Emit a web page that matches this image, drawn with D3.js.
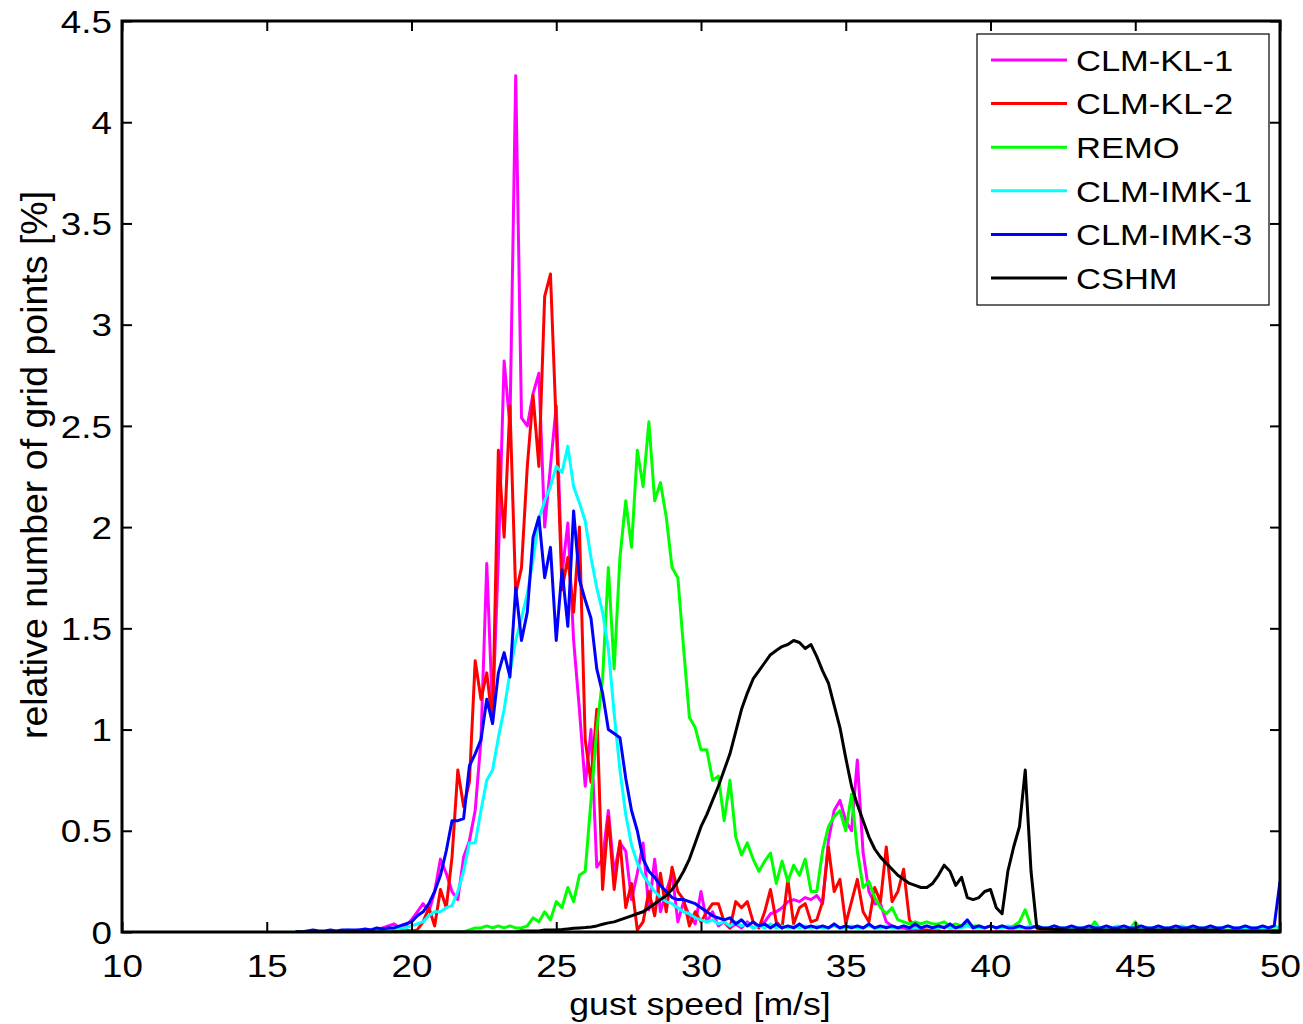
<!DOCTYPE html>
<html><head><meta charset="utf-8">
<script src="https://cdn.jsdelivr.net/npm/d3@7"></script>
<style>body{margin:0;background:#fff}svg{display:block}</style>
</head><body>
<svg id="c" width="1303" height="1024"></svg>
<script>
// bins: gust speed from 16.0 to 50.0 m/s, 0.2 m/s steps
const binStart = 16, binStep = 0.2;
const seriesNames = ["CLM-KL-1","CLM-KL-2","REMO","CLM-IMK-1","CLM-IMK-3","CSHM"];
const seriesColors = ["#ff00ff","#ff0000","#00ff00","#00ffff","#0000ff","#000000"];
const xTicks = [10,15,20,25,30,35,40,45,50];
const yTicks = [0,0.5,1,1.5,2,2.5,3,3.5,4,4.5];
const yTickLabels = ["0","0.5","1","1.5","2","2.5","3","3.5","4","4.5"];

const clmKl1 = [
0,0,0,0,0,
0,0,0,0.005,0,
0.005,0.01,0.005,0.01,0.01,
0.02,0.03,0.04,0.02,0.03,
0.06,0.1,0.14,0.1,0.2,
0.36,0.29,0.2,0.16,0.37,
0.45,0.6,0.95,1.82,1.08,
1.84,2.82,2.5,4.23,2.54,
2.5,2.66,2.76,2.0,2.3,
2.6,1.77,2.02,1.44,1.1,
0.72,1.0,0.32,0.36,0.6,
0.29,0.44,0.4,0.16,0.29,
0.44,0.11,0.36,0.1,0.2,
0.29,0.05,0.15,0.08,0.04,
0.2,0.05,0.1,0.03,0.05,
0.02,0.04,0.02,0.05,0.02,
0.03,0.05,0.09,0.1,0.12,
0.15,0.16,0.15,0.17,0.16,
0.18,0.14,0.45,0.6,0.65,
0.55,0.5,0.85,0.39,0.2,
0.14,0.14,0.05,0.03,0.02,
0.02,0.01,0.01,0.01,0.005,
0.005,0.005,0,0.005,0,
0,0,0,0,0,
0,0,0,0,0,
0,0,0,0,0,
0,0,0,0,0,
0,0,0,0,0,
0,0,0,0,0,
0,0,0,0,0,
0,0,0,0,0,
0,0,0,0,0,
0,0,0,0,0,
0,0,0,0,0,
0];

const clmKl2 = [
0,0,0,0,0,
0,0,0,0,0,
0,0,0,0,0,
0,0,0,0.005,0.01,
0.005,0.01,0.05,0.12,0.03,
0.21,0.12,0.37,0.8,0.62,
0.74,1.34,1.15,1.28,1.03,
2.38,1.95,2.6,1.67,1.8,
2.3,2.65,2.3,3.14,3.25,
2.5,1.69,1.85,1.58,2.0,
0.95,0.74,1.1,0.21,0.57,
0.21,0.45,0.12,0.24,0.01,
0.05,0.2,0.08,0.29,0.1,
0.32,0.2,0.16,0.03,0.1,
0.05,0.1,0.14,0.14,0.05,
0.02,0.15,0.12,0.15,0.05,
0.02,0.1,0.21,0.05,0.02,
0.26,0.04,0.12,0.14,0.05,
0.06,0.15,0.42,0.2,0.26,
0.04,0.15,0.26,0.1,0.05,
0.22,0.15,0.42,0.15,0.2,
0.31,0.06,0.02,0.01,0.01,
0.005,0.005,0,0,0,
0,0,0,0,0,
0,0,0,0,0,
0,0,0,0,0,
0,0,0,0,0,
0,0,0,0,0,
0,0,0,0,0,
0,0,0,0,0,
0,0,0,0,0,
0,0,0,0,0,
0,0,0,0,0,
0,0,0,0,0,
0];

const remo = [
0,0,0,0,0,
0,0,0,0,0,
0,0,0,0,0,
0,0,0,0,0,
0,0,0,0,0,
0,0,0,0,0,
0.01,0.02,0.02,0.03,0.02,
0.03,0.02,0.03,0.02,0.02,
0.03,0.07,0.05,0.1,0.06,
0.15,0.12,0.22,0.15,0.28,
0.3,0.65,1.0,1.25,1.8,
1.3,1.85,2.13,1.9,2.38,
2.2,2.52,2.13,2.22,2.05,
1.8,1.75,1.4,1.06,1.01,
0.9,0.9,0.75,0.77,0.55,
0.75,0.47,0.38,0.44,0.36,
0.3,0.35,0.39,0.24,0.35,
0.25,0.33,0.28,0.36,0.2,
0.2,0.4,0.52,0.57,0.6,
0.5,0.68,0.4,0.22,0.25,
0.17,0.12,0.09,0.12,0.06,
0.05,0.04,0.05,0.04,0.05,
0.04,0.04,0.05,0.03,0.04,
0.03,0.04,0.03,0.03,0.02,
0.03,0.02,0.03,0.02,0.03,
0.05,0.11,0.03,0.02,0.02,
0.02,0.01,0.02,0.01,0.02,
0.01,0.02,0.01,0.05,0.01,
0.02,0.01,0.02,0.01,0.01,
0.05,0.01,0.02,0.01,0.01,
0.01,0.02,0.01,0.01,0.02,
0.01,0.01,0.02,0.01,0.01,
0.01,0.01,0.01,0.02,0.01,
0.01,0.01,0.01,0.01,0.01,
0.01];

const clmImk1 = [
0,0,0,0,0,
0,0.005,0.005,0.005,0.01,
0.005,0.01,0.01,0.01,0.01,
0.01,0.01,0.015,0.02,0.02,
0.03,0.04,0.05,0.08,0.1,
0.1,0.12,0.13,0.2,0.3,
0.44,0.44,0.6,0.75,0.8,
0.96,1.1,1.28,1.44,1.55,
1.67,1.84,2.04,2.13,2.2,
2.3,2.27,2.4,2.2,2.12,
2.03,1.85,1.7,1.58,1.4,
1.08,0.8,0.58,0.43,0.34,
0.28,0.24,0.2,0.17,0.15,
0.14,0.12,0.1,0.09,0.07,
0.06,0.05,0.06,0.04,0.05,
0.03,0.05,0.03,0.04,0.02,
0.03,0.02,0.04,0.02,0.03,
0.02,0.03,0.02,0.03,0.02,
0.03,0.02,0.02,0.03,0.02,
0.02,0.03,0.02,0.02,0.03,
0.02,0.02,0.03,0.02,0.02,
0.03,0.02,0.02,0.02,0.03,
0.02,0.02,0.03,0.02,0.02,
0.02,0.03,0.02,0.02,0.02,
0.03,0.02,0.02,0.03,0.02,
0.02,0.02,0.03,0.02,0.02,
0.02,0.03,0.02,0.02,0.02,
0.02,0.02,0.02,0.03,0.02,
0.02,0.02,0.03,0.02,0.02,
0.03,0.02,0.02,0.02,0.02,
0.02,0.02,0.02,0.03,0.02,
0.02,0.02,0.02,0.02,0.02,
0.02,0.03,0.02,0.02,0.02,
0.02,0.02,0.02,0.02,0.03,
0.02];

const clmImk3 = [
0,0,0.005,0.01,0.005,
0.005,0.01,0.005,0.01,0.01,
0.01,0.01,0.015,0.01,0.02,
0.015,0.02,0.02,0.03,0.04,
0.05,0.08,0.1,0.14,0.2,
0.28,0.4,0.55,0.55,0.56,
0.82,0.88,0.95,1.15,1.03,
1.28,1.38,1.26,1.7,1.44,
1.58,1.95,2.05,1.75,1.9,
1.44,1.79,1.51,2.08,1.74,
1.64,1.55,1.3,1.18,1.0,
0.98,0.96,0.76,0.6,0.5,
0.36,0.3,0.27,0.23,0.2,
0.17,0.16,0.16,0.15,0.14,
0.12,0.1,0.08,0.07,0.06,
0.07,0.04,0.06,0.03,0.05,
0.03,0.04,0.02,0.04,0.02,
0.03,0.02,0.04,0.02,0.03,
0.02,0.03,0.02,0.04,0.02,
0.03,0.02,0.03,0.02,0.04,
0.02,0.03,0.02,0.03,0.02,
0.03,0.02,0.04,0.02,0.03,
0.02,0.03,0.02,0.04,0.02,
0.03,0.06,0.02,0.03,0.02,
0.03,0.02,0.03,0.02,0.02,
0.03,0.02,0.02,0.03,0.02,
0.02,0.03,0.02,0.02,0.03,
0.02,0.02,0.03,0.02,0.02,
0.03,0.02,0.02,0.03,0.02,
0.02,0.03,0.02,0.02,0.03,
0.02,0.02,0.03,0.02,0.02,
0.03,0.02,0.02,0.03,0.02,
0.02,0.03,0.02,0.02,0.03,
0.02,0.02,0.03,0.02,0.03,
0.25];

const cshm = [
0,0,0,0,0,
0,0,0,0,0,
0,0,0,0,0,
0,0,0,0,0,
0,0,0,0,0,
0,0,0,0,0,
0,0,0,0,0,
0,0,0,0,0.005,
0.005,0.005,0.005,0.01,0.01,
0.01,0.012,0.015,0.018,0.02,
0.022,0.025,0.03,0.038,0.045,
0.05,0.06,0.07,0.08,0.09,
0.1,0.12,0.14,0.16,0.18,
0.21,0.25,0.3,0.36,0.44,
0.52,0.58,0.65,0.72,0.8,
0.88,0.99,1.1,1.18,1.25,
1.29,1.33,1.37,1.39,1.41,
1.42,1.44,1.43,1.40,1.42,
1.36,1.29,1.23,1.12,1.01,
0.86,0.72,0.63,0.55,0.47,
0.41,0.37,0.34,0.31,0.28,
0.26,0.24,0.23,0.22,0.22,
0.24,0.28,0.33,0.3,0.23,
0.27,0.17,0.16,0.17,0.2,
0.21,0.12,0.09,0.3,0.42,
0.52,0.8,0.3,0.02,0.015,
0.015,0.012,0.012,0.01,0.01,
0.01,0.01,0.01,0.01,0.01,
0.01,0.01,0.01,0.01,0.01,
0.01,0.01,0.01,0.01,0.01,
0.01,0.01,0.01,0.01,0.01,
0.01,0.01,0.01,0.01,0.01,
0.005,0.005,0.005,0.005,0.005,
0.005,0.005,0.005,0.005,0.005,
0.005];

const seriesValues = [clmKl1, clmKl2, remo, clmImk1, clmImk3, cshm];

const svg = d3.select("#c");
const W = 1303, H = 1024;
svg.append("rect").attr("width", W).attr("height", H).attr("fill", "#fff");

const pL = 122, pR = 1280, pT = 21, pB = 932;
const x = d3.scaleLinear().domain([10, 50]).range([pL, pR]);
const y = d3.scaleLinear().domain([0, 4.5]).range([pB, pT]);

const FONT = "'Liberation Sans', Arial, Helvetica, sans-serif";
const SX = 1.15;

// series
const g = svg.append("g");
g.append("clipPath").attr("id","clip").append("rect")
  .attr("x", pL).attr("y", pT).attr("width", pR-pL).attr("height", pB-pT);
const plot = g.append("g").attr("clip-path","url(#clip)");
const line = d3.line()
  .x((d,i) => x(binStart + i*binStep))
  .y(d => y(d));
seriesValues.forEach((vals, k) => {
  plot.append("path")
    .attr("d", line(vals))
    .attr("fill", "none")
    .attr("stroke", seriesColors[k])
    .attr("stroke-width", 3)
    .attr("stroke-linejoin", "round");
});

// axes (ticks inside, on all sides)
const tickLen = 10;
const axB = svg.append("g").attr("transform", `translate(0,${pB})`)
  .call(d3.axisBottom(x).tickValues(xTicks).tickSize(-tickLen).tickPadding(0).tickFormat(d3.format("d")));
const axT = svg.append("g").attr("transform", `translate(0,${pT})`)
  .call(d3.axisTop(x).tickValues(xTicks).tickSize(-tickLen).tickFormat(""));
const axL = svg.append("g").attr("transform", `translate(${pL},0)`)
  .call(d3.axisLeft(y).tickValues(yTicks).tickSize(-tickLen).tickFormat((d,i) => yTickLabels[i]));
const axR = svg.append("g").attr("transform", `translate(${pR},0)`)
  .call(d3.axisRight(y).tickValues(yTicks).tickSize(-tickLen).tickFormat(""));
[axB, axT, axL, axR].forEach(a => {
  a.select(".domain").remove();
  a.selectAll(".tick line").attr("stroke", "#000").attr("stroke-width", 2);
});
axB.selectAll(".tick text")
  .attr("font-family", FONT).attr("font-size", 32).attr("fill", "#000")
  .attr("y", 0).attr("dy", 0)
  .attr("transform", `translate(0,45) scale(${SX},1)`);
axL.selectAll(".tick text")
  .attr("font-family", FONT).attr("font-size", 32).attr("fill", "#000")
  .attr("x", 0).attr("dy", "0.35em")
  .attr("transform", `translate(-10,0) scale(${SX},1)`);

// frame
svg.append("rect").attr("x", pL).attr("y", pT)
  .attr("width", pR-pL).attr("height", pB-pT)
  .attr("fill", "none").attr("stroke", "#000").attr("stroke-width", 3);

// axis titles
svg.append("text")
  .attr("transform", `translate(700,1015) scale(${SX},1)`)
  .attr("text-anchor", "middle").attr("font-family", FONT).attr("font-size", 31)
  .text("gust speed [m/s]");
svg.append("text")
  .attr("transform", `translate(47,465) rotate(-90)`)
  .attr("text-anchor", "middle").attr("font-family", FONT).attr("font-size", 37.5)
  .text("relative number of grid points [%]");

// legend
const lg = svg.append("g");
lg.append("rect").attr("x", 977).attr("y", 34).attr("width", 292).attr("height", 271)
  .attr("fill", "#fff").attr("stroke", "#000").attr("stroke-width", 1.2);
seriesNames.forEach((name, k) => {
  const ry = 60 + k*43.6;
  lg.append("line").attr("x1", 991).attr("x2", 1067).attr("y1", ry).attr("y2", ry)
    .attr("stroke", seriesColors[k]).attr("stroke-width", 3);
  lg.append("text")
    .attr("transform", `translate(1076,${ry}) scale(${SX},1)`)
    .attr("dy", "0.36em").attr("font-family", FONT).attr("font-size", 30)
    .text(name);
});
</script>
</body></html>
